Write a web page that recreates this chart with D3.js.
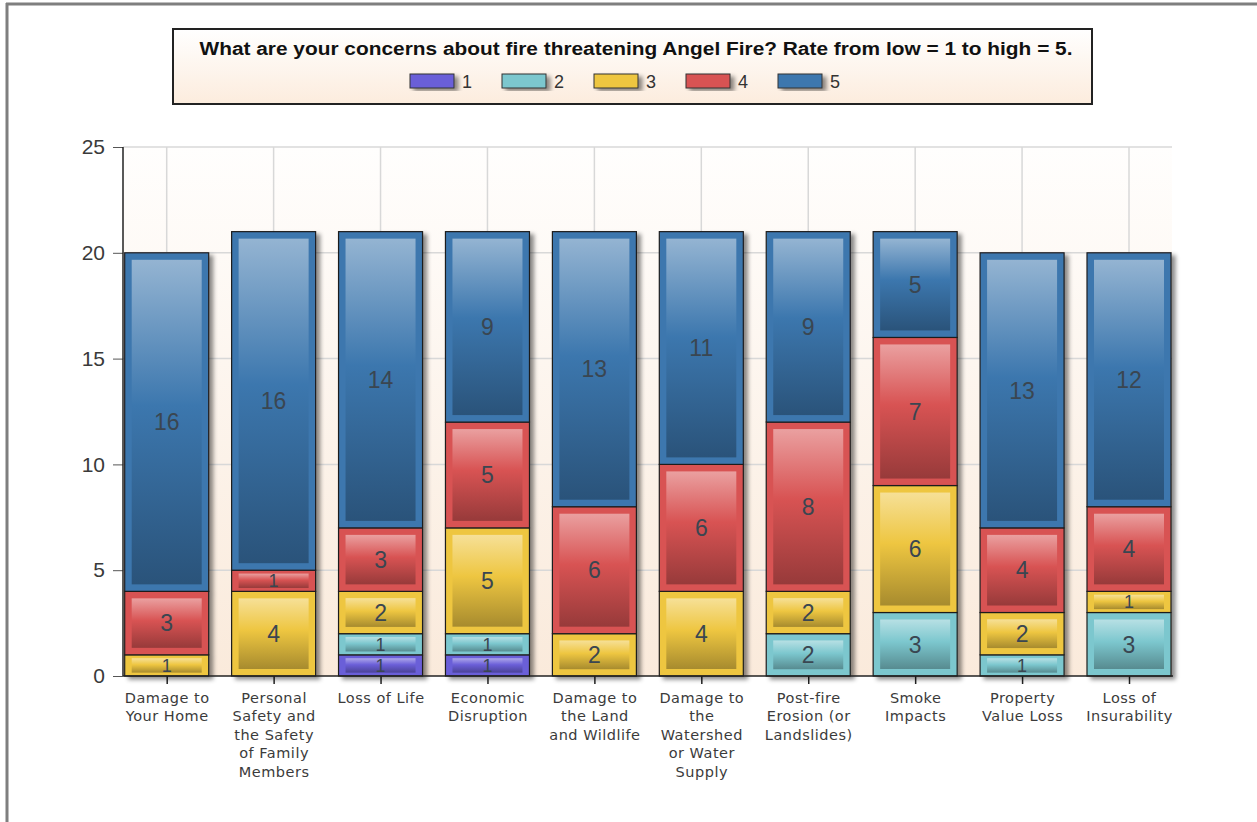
<!DOCTYPE html>
<html><head><meta charset="utf-8">
<script src="https://cdn.jsdelivr.net/npm/d3@7"></script>
<style>html,body{margin:0;padding:0;background:#fff;}svg{display:block;}</style>
</head><body>
<script>
const categories = ["Damage to Your Home","Personal Safety and the Safety of Family Members","Loss of Life","Economic Disruption","Damage to the Land and Wildlife","Damage to the Watershed or Water Supply","Post-fire Erosion (or Landslides)","Smoke Impacts","Property Value Loss","Loss of Insurability"];
const xTickLines = [["Damage to","Your Home"],["Personal","Safety and","the Safety","of Family","Members"],["Loss of Life"],["Economic","Disruption"],["Damage to","the Land","and Wildlife"],["Damage to","the","Watershed","or Water","Supply"],["Post-fire","Erosion  (or","Landslides)"],["Smoke","Impacts"],["Property","Value Loss"],["Loss of","Insurability"]];
const seriesNames = ["1","2","3","4","5"];
const s1 = [0,0,1,1,0,0,0,0,0,0];
const s2 = [0,0,1,1,0,0,2,3,1,3];
const s3 = [1,4,2,5,2,4,2,6,2,1];
const s4 = [3,1,3,5,6,6,8,7,4,4];
const s5 = [16,16,14,9,13,11,9,5,13,12];
const yTicks = [0,5,10,15,20,25];
const colors = ["#6b5fd8","#7cc7ce","#eec641","#d85353","#3c77ae"];
const titleText = "What are your concerns about fire threatening Angel Fire? Rate from low = 1 to high = 5.";

const W=1257,H=822;
const svg=d3.select("body").append("svg").attr("width",W).attr("height",H);
const defs=svg.append("defs");

// frame
svg.append("rect").attr("x",0).attr("y",0).attr("width",W).attr("height",H).attr("fill","#fff");
svg.append("line").attr("x1",6).attr("x2",W).attr("y1",4).attr("y2",4).attr("stroke","#7f7f7f").attr("stroke-width",3);
svg.append("line").attr("x1",7).attr("x2",7).attr("y1",3).attr("y2",H).attr("stroke","#7f7f7f").attr("stroke-width",3);

// gradients
const bg=defs.append("linearGradient").attr("id","bgGrad").attr("x1",0).attr("x2",0).attr("y1",0).attr("y2",1);
bg.append("stop").attr("offset","0%").attr("stop-color","#fffefd");
bg.append("stop").attr("offset","100%").attr("stop-color","#faeadb");
const lg=defs.append("linearGradient").attr("id","lgGrad").attr("x1",0).attr("x2",0).attr("y1",0).attr("y2",1);
lg.append("stop").attr("offset","0%").attr("stop-color","#ffffff");
lg.append("stop").attr("offset","100%").attr("stop-color","#fcecdd");

colors.forEach((c,i)=>{
  const g=defs.append("linearGradient").attr("id","seg"+i).attr("x1",0).attr("x2",0).attr("y1",0).attr("y2",1);
  g.append("stop").attr("offset","0%").attr("stop-color",d3.interpolateRgb(c,"#ffffff")(0.45));
  g.append("stop").attr("offset","45%").attr("stop-color",c);
  g.append("stop").attr("offset","100%").attr("stop-color",d3.interpolateRgb(c,"#000000")(0.3));
});
const sh=defs.append("filter").attr("id","shadow").attr("x","-10%").attr("y","-10%").attr("width","130%").attr("height","130%");
sh.append("feDropShadow").attr("dx",4).attr("dy",3).attr("stdDeviation",2).attr("flood-color","#000").attr("flood-opacity",0.45);

// legend box
svg.append("rect").attr("x",173).attr("y",29).attr("width",919).attr("height",75)
  .attr("fill","url(#lgGrad)").attr("stroke","#222").attr("stroke-width",2);
svg.append("text").attr("x",636).attr("y",55).attr("text-anchor","middle")
  .attr("font-family","'Liberation Sans Narrow','Arial Narrow','Liberation Sans',Arial,sans-serif")
  .attr("font-weight","bold").attr("font-size",18).attr("fill","#111")
  .attr("textLength",873).attr("lengthAdjust","spacingAndGlyphs").text(titleText);
const legX=d3.scalePoint().domain(seriesNames).range([410,778]);
const leg=svg.append("g").selectAll("g").data(seriesNames).join("g");
leg.append("rect").attr("x",d=>legX(d)).attr("y",74).attr("width",44).attr("height",14)
  .attr("fill",(d,i)=>colors[i]).attr("stroke","#333").attr("stroke-width",1).attr("filter","url(#shadow)");
leg.append("text").attr("x",d=>legX(d)+52).attr("y",88)
  .attr("font-family","'Liberation Sans Narrow','Arial Narrow','Liberation Sans',Arial,sans-serif")
  .attr("font-size",18).attr("fill","#333").text(d=>d);

// scales
const plotL=123,plotR=1172,plotT=147,plotB=676;
const y=d3.scaleLinear().domain([0,25]).range([plotB,plotT]);
const x=d3.scalePoint().domain(categories).range([166.7,1129]);
const barW=84;

svg.append("rect").attr("x",plotL).attr("y",plotT).attr("width",plotR-plotL).attr("height",plotB-plotT).attr("fill","url(#bgGrad)");
// gridlines
svg.append("g").selectAll("line").data(yTicks.filter(d=>d>0)).join("line")
  .attr("x1",plotL).attr("x2",plotR).attr("y1",d=>y(d)).attr("y2",d=>y(d)).attr("stroke","#d8d8d8").attr("stroke-width",1.5);
svg.append("g").selectAll("line").data(categories).join("line")
  .attr("x1",d=>x(d)).attr("x2",d=>x(d)).attr("y1",plotT).attr("y2",plotB).attr("stroke","#d8d8d8").attr("stroke-width",1.5);

// axes
const yAxis=svg.append("g").attr("transform",`translate(${plotL},0)`)
  .call(d3.axisLeft(y).tickValues(yTicks).tickSize(10).tickPadding(8));
yAxis.select(".domain").remove();
yAxis.selectAll(".tick line").attr("stroke","#555").attr("stroke-width",1);
yAxis.selectAll(".tick text").attr("font-family","'Liberation Sans',Arial,sans-serif").attr("font-size",21).attr("fill","#3a3a3a");

const xAxis=svg.append("g").attr("transform",`translate(0,${plotB})`)
  .call(d3.axisBottom(x).tickSize(8).tickFormat(""));
xAxis.select(".domain").remove();
xAxis.selectAll(".tick line").attr("stroke","#222").attr("stroke-width",1.5);
xAxis.selectAll(".tick").each(function(d,i){
  const t=d3.select(this).append("text").attr("text-anchor","middle")
    .attr("font-family","'DejaVu Sans',Verdana,sans-serif").attr("font-size",14.5)
    .attr("letter-spacing","0.5px").attr("fill","#3b3b3b");
  xTickLines[i].forEach((ln,j)=>{
    t.append("tspan").attr("x",0).attr("y",27+j*18.4).text(ln);
  });
});

// stacked bars
const series=[s1,s2,s3,s4,s5];
const rows=categories.map((c,i)=>{const r={cat:c};seriesNames.forEach((s,k)=>r[s]=series[k][i]);return r;});
const stack=d3.stack().keys(seriesNames)(rows);

const barsG=svg.append("g");
categories.forEach((c,ci)=>{
  const g=barsG.append("g").attr("filter","url(#shadow)");
  stack.forEach((layer,k)=>{
    const d=layer[ci];
    if(d[1]-d[0]<=0) return;
    const x0=x(c)-barW/2, yt=y(d[1]), yb=y(d[0]), h=yb-yt;
    g.append("rect").attr("x",x0).attr("y",yt).attr("width",barW).attr("height",h)
      .attr("fill",colors[k]).attr("stroke","#1e1e1e").attr("stroke-width",1.2);
  });
});
const innerG=svg.append("g");
categories.forEach((c,ci)=>{
  stack.forEach((layer,k)=>{
    const d=layer[ci];
    const v=d[1]-d[0];
    if(v<=0) return;
    const x0=x(c)-barW/2, yt=y(d[1]), yb=y(d[0]), h=yb-yt;
    const iy=Math.min(7,h*0.16), ix=7;
    innerG.append("rect").attr("x",x0+ix).attr("y",yt+iy).attr("width",barW-2*ix).attr("height",h-2*iy)
      .attr("fill",`url(#seg${k})`);
    innerG.append("text").attr("x",x(c)).attr("y",(yt+yb)/2).attr("dy","0.36em")
      .attr("text-anchor","middle").attr("font-family","'Liberation Sans',Arial,sans-serif")
      .attr("font-size",h<30?18:23).attr("fill","#3a4651").text(v);
  });
});

// axis lines
svg.append("line").attr("x1",plotL).attr("x2",plotL).attr("y1",plotT).attr("y2",plotB).attr("stroke","#222").attr("stroke-width",1.5);
svg.append("line").attr("x1",plotL).attr("x2",plotR+1).attr("y1",plotB).attr("y2",plotB).attr("stroke","#222").attr("stroke-width",1.5);
</script>
</body></html>
